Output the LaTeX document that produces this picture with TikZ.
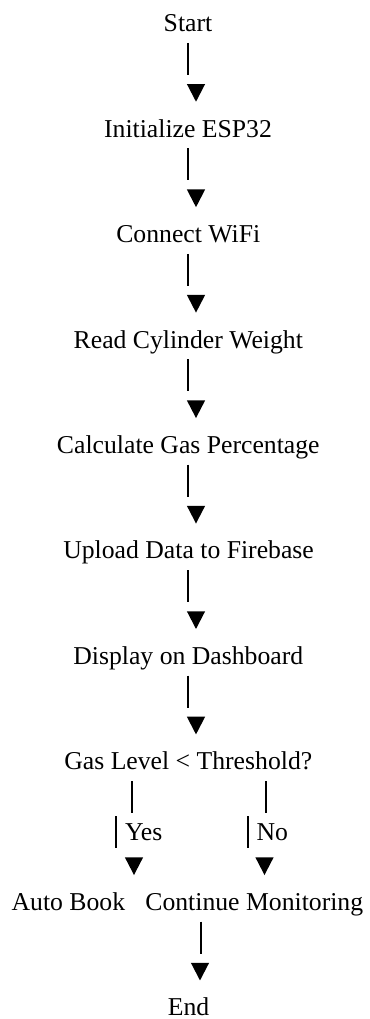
\documentclass[tikz,border=0pt]{standalone}
\usepackage{fontspec}
\setmainfont{Liberation Serif}
\begin{document}
\begin{tikzpicture}[x=1bp,y=-1bp,
  txt/.style={inner sep=0pt, anchor=base, font=\fontsize{25.8pt}{30pt}\selectfont},
  txtw/.style={txt, anchor=base west},
  bar/.style={line width=1.6bp},
  tri/.pic={\fill (-9.15,0) -- (9.15,0) -- (0,17.7) -- cycle;}]
\fill[white] (0,0) rectangle (369,1019);
\useasboundingbox (0,0) rectangle (369,1019);
% text nodes
\node[txt] (start)   at (188,31.7)    {Start};
\node[txt] (init)    at (188,137.15)  {Initialize ESP32};
\node[txt] (wifi)    at (188.3,242.6) {Connect WiFi};
\node[txt] (read)    at (188.3,348.05){Read Cylinder Weight};
\node[txt] (calc)    at (188.3,453.5) {Calculate Gas Percentage};
\node[txt] (upload)  at (188.6,558.95){Upload Data to Firebase};
\node[txt] (display) at (188.3,664.4) {Display on Dashboard};
\node[txt] (gas)     at (188.3,769.85){Gas Level < Threshold?};
\node[txtw] (yes)    at (124.8,840.15){Yes};
\node[txtw] (no)     at (256.3,840.15){No};
\node[txtw] (auto)   at (11.4,910.45) {Auto Book};
\node[txtw] (cont)   at (145.2,910.45){Continue Monitoring};
\node[txt] (end)     at (188.5,1015.4){End};
% bar end points (main column)
\foreach \n/\b in {1/66.85,2/172.3,3/277.75,4/383.2,5/488.65,6/594.1,7/699.55}{
  \coordinate (bt\n) at (188,\b-24);
  \coordinate (bb\n) at (188,\b+8);
}
\foreach \n/\b in {1/102.0,2/207.45,3/312.9,4/418.35,5/523.8,6/629.25,7/734.7}{
  \coordinate (tt\n) at (196,\b-18);
}
% branch coordinates
\coordinate (ly1) at (132,781);   \coordinate (ly2) at (132,813);
\coordinate (ly3) at (116,816.15);\coordinate (ly4) at (116,848.15);
\coordinate (rn1) at (266,781);   \coordinate (rn2) at (266,813);
\coordinate (rn3) at (248,816.15);\coordinate (rn4) at (248,848.15);
\coordinate (ltri) at (134,857.3);
\coordinate (rtri) at (264.5,857.3);
\coordinate (et1) at (201,921.6); \coordinate (et2) at (201,953.6);
\coordinate (etri) at (200,962.75);
% connectors: main column
\foreach \n in {1,...,7}{
  \draw[bar] (bt\n) -- (bb\n);
  \pic at (tt\n) {tri};
}
% Yes / No branches
\draw[bar] (ly1) -- (ly2);
\draw[bar] (ly3) -- (ly4);
\draw[bar] (rn1) -- (rn2);
\draw[bar] (rn3) -- (rn4);
\pic at (ltri) {tri};
\pic at (rtri) {tri};
% to End
\draw[bar] (et1) -- (et2);
\pic at (etri) {tri};
\end{tikzpicture}
\end{document}
